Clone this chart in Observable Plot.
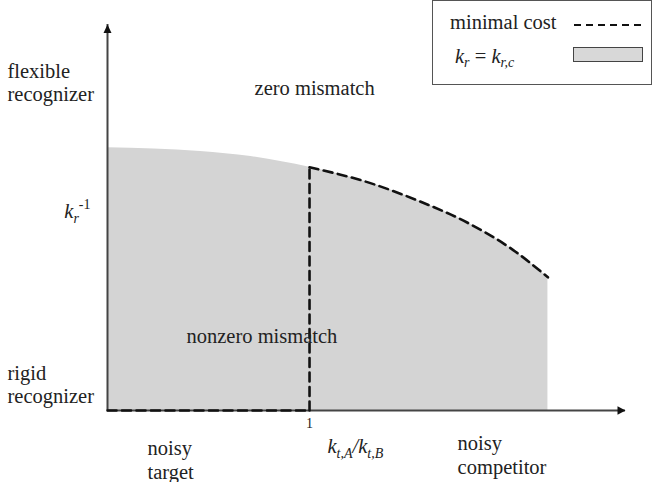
<!DOCTYPE html>
<html><head><meta charset="utf-8">
<script src="https://cdn.jsdelivr.net/npm/d3@7"></script>
<script src="https://cdn.jsdelivr.net/npm/@observablehq/plot@0.6"></script>
<style>
body{margin:0;background:#fff;}
#wrap{position:relative;width:655px;height:482px;font-family:"Liberation Serif","Times New Roman",serif;color:#222;}
#legend{position:absolute;left:432px;top:0;width:220px;height:85px;border:1.5px solid #555;box-sizing:border-box;background:#fff;font-size:20.5px;}
#legend .lbl{position:absolute;white-space:nowrap;line-height:24px;}
#legend sub{font-size:14px;vertical-align:-4px;line-height:0;}
#legend .sw{position:absolute;left:140px;top:46px;width:70px;height:15px;background:#d8d8d8;border:1px solid #444;box-sizing:border-box;}
#legend svg{position:absolute;left:140px;top:14px;}
</style>
</head><body>
<div id="wrap"><div id="chart"></div>
<div id="legend">
  <div class="lbl" style="left:17px;top:9px;">minimal cost</div>
  <svg width="72" height="20"><line x1="1" y1="10" x2="71" y2="10" stroke="#111" stroke-width="2.2" stroke-dasharray="7,5"/></svg>
  <div class="lbl" style="left:22px;top:43px;"><i>k</i><sub><i>r</i></sub> = <i>k</i><sub><i>r,c</i></sub></div>
  <div class="sw"></div>
</div>
</div>
<script>
// Boundary k_r = k_r,c  (x = k_tA/k_tB, y = flexibility of recognizer, schematic units)
const boundaryX = [0, 0.46, 0.71, 1.0, 1.29, 1.535, 1.78, 2.01, 2.18];
const boundaryY = [0.681, 0.671, 0.658, 0.630, 0.591, 0.544, 0.487, 0.415, 0.345];
const threshold = 1;            // k_tA/k_tB = 1
const xMax = 2.564, yMax = 1;   // axis arrow tips

// Text annotations
const labelText = ["zero mismatch", "nonzero mismatch", "flexible\nrecognizer", "rigid\nrecognizer",
  "noisy\ntarget", "k_{t,A}/k_{t,B}", "noisy\ncompetitor", "k_{r}^{-1}"];
const labelX = [0.728, 0.391, -0.495, -0.495, 0.198, 1.089, 1.733, -0.084];
const labelY = [0.838, 0.194, 0.851, 0.069, -0.127, -0.09, -0.114, 0.518];
const labelAnchor = ["start", "start", "start", "start", "start", "start", "start", "end"];

const boundary = boundaryX.map((x, i) => ({x, y: boundaryY[i]}));
const upper = boundary.filter(d => d.x >= threshold);
const yAtThreshold = boundary.find(d => d.x === threshold).y;
const labels = labelText.map((t, i) => ({t, x: labelX[i], y: labelY[i], a: labelAnchor[i]}));

const rightHead = {draw(ctx, size){ ctx.moveTo(0,0); ctx.lineTo(-8,-4.2); ctx.lineTo(-8,4.2); ctx.closePath(); }};
const upHead = {draw(ctx, size){ ctx.moveTo(0,0); ctx.lineTo(-4,8.5); ctx.lineTo(4,8.5); ctx.closePath(); }};
const dash = "9,5.5";
const textOpts = {x: "x", y: "y", text: "t", lineHeight: 1.15, fill: "#222", clip: false};

const plot = Plot.plot({
  width: 655, height: 482,
  marginLeft: 107, marginRight: 30, marginTop: 24, marginBottom: 72,
  x: {domain: [0, xMax], axis: null},
  y: {domain: [0, yMax], axis: null},
  style: {fontFamily: '"Liberation Serif","Times New Roman",serif', fontSize: "20.5px", color: "#222", background: "#fff"},
  marks: [
    Plot.areaY(boundary, {x: "x", y: "y", fill: "#d4d4d4", curve: "monotone-x"}),
    Plot.ruleY([0], {x1: 0, x2: xMax, stroke: "#444", strokeWidth: 2}),
    Plot.ruleX([0], {y1: 0, y2: yMax, stroke: "#444", strokeWidth: 2}),
    Plot.dot([{x: xMax, y: 0}], {x: "x", y: "y", symbol: rightHead, fill: "#111", stroke: "none", r: 5}),
    Plot.dot([{x: 0, y: yMax}], {x: "x", y: "y", symbol: upHead, fill: "#111", stroke: "none", r: 5}),
    Plot.line([{x: 0, y: 0}, {x: threshold, y: 0}], {x: "x", y: "y", stroke: "#111", strokeWidth: 2.6, strokeDasharray: dash}),
    Plot.line([{x: threshold, y: 0}, {x: threshold, y: yAtThreshold}], {x: "x", y: "y", stroke: "#111", strokeWidth: 2.6, strokeDasharray: dash}),
    Plot.line(upper, {x: "x", y: "y", stroke: "#111", strokeWidth: 2.6, strokeDasharray: dash, curve: "monotone-x"}),
    Plot.text([threshold], {x: d => d, y: 0, dy: 13, text: d => String(d), fontSize: 14, fill: "#222"}),
    Plot.text(labels.filter(d => d.a === "start"), {...textOpts, textAnchor: "start"}),
    Plot.text(labels.filter(d => d.a === "end"), {...textOpts, textAnchor: "end"})
  ]
});
document.getElementById("chart").appendChild(plot);

// render k_{..} style math labels with sub/superscripts
plot.querySelectorAll("text").forEach(el => {
  const s = el.textContent;
  if (!/[_^]\{/.test(s)) return;
  while (el.firstChild) el.removeChild(el.firstChild);
  const tokens = s.match(/_\{[^}]*\}|\^\{[^}]*\}|[^_^]+/g);
  let cur = 0;
  tokens.forEach(tok => {
    let txt = tok, off = 0, size = null;
    if (tok.startsWith("_{")) { txt = tok.slice(2, -1); off = 5; size = 14; }
    else if (tok.startsWith("^{")) { txt = tok.slice(2, -1); off = -9; size = 14; }
    const ts = document.createElementNS("http://www.w3.org/2000/svg", "tspan");
    ts.textContent = txt;
    if (off !== cur) { ts.setAttribute("dy", off - cur); cur = off; }
    if (size) ts.setAttribute("font-size", size);
    if (/[A-Za-z]/.test(txt)) ts.setAttribute("font-style", "italic");
    el.appendChild(ts);
  });
});
</script>
</body></html>
